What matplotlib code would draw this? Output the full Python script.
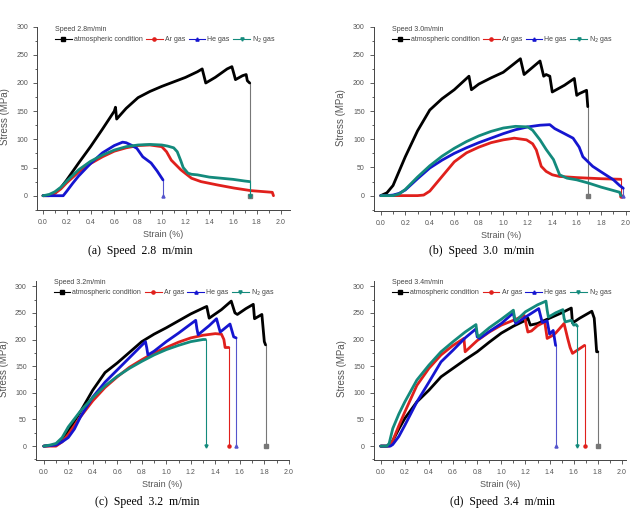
" stress-strain curves at four cutting speeds, four atmospheres "
import matplotlib
matplotlib.use("Agg")
import matplotlib.pyplot as plt
from matplotlib.ticker import MultipleLocator

plt.rcParams.update({"font.family": ["Liberation Sans", "DejaVu Sans"]})

speeds = ["2.8", "3.0", "3.2", "3.4"]
captions = ["(a)  Speed  2.8  m/min", "(b)  Speed  3.0  m/min",
            "(c)  Speed  3.2  m/min", "(d)  Speed  3.4  m/min"]
series_names = ["atmospheric condition", "Ar gas", "He gas", "N$_2$ gas"]

# ---- (a) 2.8 m/min ----
a_atm_x = [0, 0.05, 0.1, 0.15, 0.2, 0.3, 0.4, 0.5, 0.6, 0.61, 0.62, 0.7, 0.8, 0.9, 1.0, 1.1,
           1.2, 1.3, 1.34, 1.37, 1.45, 1.55, 1.59, 1.61, 1.62, 1.68, 1.71, 1.72, 1.74, 1.74]
a_atm_y = [0, 1, 5, 14, 28, 58, 87, 118, 150, 157, 136, 155, 174, 185, 194, 202,
           210, 220, 225, 200, 210, 225, 229, 214, 206, 213, 215, 204, 200, 0]
a_ar_x = [0, 0.05, 0.1, 0.15, 0.2, 0.3, 0.4, 0.5, 0.6, 0.7, 0.8, 0.9, 1.0, 1.04, 1.08, 1.16,
          1.25, 1.33, 1.47, 1.61, 1.75, 1.93, 1.94]
a_ar_y = [0, 0, 4, 12, 23, 42, 57, 69, 79, 85, 89, 90, 87, 78, 63, 46,
          31, 25, 19, 13.5, 9, 6, 0]
a_he_x = [0, 0.05, 0.1, 0.17, 0.2, 0.25, 0.3, 0.4, 0.5, 0.6, 0.67, 0.7, 0.75, 0.79, 0.84,
          0.91, 0.96, 1.01, 1.01]
a_he_y = [0, 0, 0, 0, 8, 22, 35, 57, 76, 89, 95, 94, 89, 84, 69,
          58, 44, 28, 0]
a_n2_x = [0, 0.05, 0.1, 0.15, 0.2, 0.3, 0.4, 0.5, 0.6, 0.7, 0.8, 0.9, 1.0, 1.05, 1.1, 1.13,
          1.16, 1.18, 1.22, 1.25, 1.3, 1.4, 1.5, 1.6, 1.7, 1.74, 1.74]
a_n2_y = [0, 2, 7, 15, 26, 46, 61, 72, 81, 87, 90, 91, 90, 88, 85, 78,
          62, 50, 40, 38, 37, 33, 31, 29, 26, 25, 0]

# ---- (b) 3.0 m/min ----
b_atm_x = [0, 0.05, 0.1, 0.2, 0.3, 0.4, 0.5, 0.6, 0.72, 0.74, 0.8, 0.9, 1.0, 1.14, 1.17,
           1.3, 1.33, 1.35, 1.38, 1.4, 1.5, 1.58, 1.6, 1.62, 1.68, 1.69, 1.69]
b_atm_y = [0, 5, 18, 69, 115, 152, 172, 188, 212, 188, 198, 209, 219, 243, 215,
           239, 212, 215, 212, 184, 196, 208, 178, 181, 187, 158, 0]
b_ar_x = [0, 0.1, 0.2, 0.3, 0.35, 0.4, 0.5, 0.6, 0.7, 0.8, 0.9, 1.0, 1.09, 1.19, 1.24,
          1.27, 1.31, 1.35, 1.4, 1.46, 1.6, 1.8, 1.96, 1.96]
b_ar_y = [0, 0, 0, 0, 1, 8, 34, 60, 76, 86, 94, 99, 102, 99, 92,
          81, 52, 43, 37, 34, 32, 30, 29, 0]
b_he_x = [0, 0.05, 0.1, 0.15, 0.2, 0.3, 0.4, 0.5, 0.6, 0.7, 0.8, 0.9, 1.0, 1.1, 1.2, 1.3,
          1.38, 1.42, 1.5, 1.57, 1.62, 1.65, 1.73, 1.8, 1.9, 1.95, 1.98, 1.98]
b_he_y = [0, 0, 1, 4, 10, 30, 49, 63, 75, 85, 94, 102, 110, 117, 122, 125,
          126, 119, 110, 102, 86, 69, 52, 42, 28, 18, 13, 0]
b_n2_x = [0, 0.1, 0.15, 0.2, 0.3, 0.4, 0.5, 0.6, 0.7, 0.8, 0.9, 1.0, 1.1, 1.2, 1.24,
          1.3, 1.35, 1.41, 1.46, 1.52, 1.6, 1.7, 1.8, 1.9, 1.95, 1.96]
b_n2_y = [0, 0, 3, 11, 33, 53, 70, 84, 96, 106, 114, 120, 123, 122, 116,
          99, 82, 64, 37, 31, 28, 22, 15, 9, 6, 0]

# ---- (c) 3.2 m/min ----
c_atm_x = [0, 0.1, 0.15, 0.2, 0.3, 0.4, 0.5, 0.6, 0.7, 0.8, 0.9, 1.0, 1.1, 1.2, 1.31,
           1.33, 1.35, 1.45, 1.53, 1.56, 1.58, 1.65, 1.71, 1.72, 1.78, 1.8, 1.81, 1.81]
c_atm_y = [0, 2, 10, 28, 65, 105, 138, 156, 176, 196, 210, 222, 235, 248, 260,
           262, 240, 256, 272, 250, 247, 258, 266, 239, 247, 196, 190, 0]
c_ar_x = [0, 0.1, 0.15, 0.2, 0.3, 0.4, 0.5, 0.6, 0.7, 0.8, 0.9, 1.0, 1.1, 1.2, 1.3,
          1.4, 1.45, 1.47, 1.48, 1.51, 1.51]
c_ar_y = [0, 0, 8, 22, 55, 85, 110, 130, 148, 162, 175, 185, 195, 203, 208,
          211, 210, 200, 185, 185, 0]
c_he_x = [0, 0.1, 0.15, 0.2, 0.25, 0.3, 0.4, 0.5, 0.6, 0.7, 0.83, 0.84, 0.85, 0.9, 1.0,
          1.1, 1.24, 1.25, 1.26, 1.35, 1.41, 1.43, 1.44, 1.52, 1.55, 1.57, 1.57]
c_he_y = [0, 2, 8, 16, 32, 55, 92, 120, 143, 166, 196, 185, 171, 178, 196,
          212, 236, 220, 209, 226, 239, 222, 214, 229, 205, 203, 0]
c_n2_x = [0, 0.05, 0.1, 0.15, 0.2, 0.3, 0.4, 0.5, 0.6, 0.7, 0.8, 0.9, 1.0, 1.1, 1.2,
          1.3, 1.32, 1.32]
c_n2_y = [0, 2, 5, 16, 36, 66, 91, 113, 131, 146, 159, 171, 181, 189, 196,
          200, 200, 0]

# ---- (d) 3.4 m/min ----
d_atm_x = [0, 0.05, 0.08, 0.1, 0.15, 0.2, 0.3, 0.4, 0.5, 0.6, 0.7, 0.8, 0.9, 1.0, 1.1,
           1.2, 1.22, 1.24, 1.3, 1.4, 1.5, 1.58, 1.59, 1.65, 1.75, 1.77, 1.78, 1.79, 1.8, 1.8]
d_atm_y = [0, 0, 2, 10, 32, 52, 83, 105, 130, 146, 162, 177, 195, 212, 225,
           236, 240, 227, 230, 240, 250, 259, 231, 240, 253, 240, 210, 177, 177, 0]
d_ar_x = [0, 0.07, 0.1, 0.15, 0.2, 0.3, 0.4, 0.5, 0.6, 0.69, 0.7, 0.8, 0.9, 1.0, 1.1,
          1.19, 1.22, 1.25, 1.3, 1.36, 1.38, 1.42, 1.45, 1.52, 1.55, 1.57, 1.59, 1.65,
          1.69, 1.69]
d_ar_y = [0, 0, 10, 38, 64, 114, 146, 171, 189, 202, 177, 198, 214, 227, 236,
          245, 214, 216, 226, 233, 202, 207, 212, 230, 202, 185, 174, 183,
          189, 0]
d_he_x = [0, 0.08, 0.1, 0.15, 0.2, 0.3, 0.4, 0.5, 0.6, 0.7, 0.79, 0.8, 0.82, 0.9, 1.0,
          1.1, 1.11, 1.12, 1.2, 1.31, 1.33, 1.34, 1.38, 1.4, 1.43, 1.45, 1.45]
d_he_y = [0, 0, 3, 18, 39, 83, 120, 158, 180, 203, 220, 205, 202, 215, 230,
          250, 236, 230, 242, 258, 240, 232, 235, 210, 217, 189, 0]
d_n2_x = [0, 0.05, 0.07, 0.1, 0.15, 0.2, 0.3, 0.4, 0.5, 0.6, 0.7, 0.79, 0.8, 0.81, 0.9,
          1.0, 1.1, 1.11, 1.12, 1.2, 1.3, 1.37, 1.38, 1.39, 1.45, 1.51, 1.52, 1.53,
          1.58, 1.6, 1.62, 1.63, 1.63]
d_n2_y = [0, 0, 5, 33, 60, 83, 124, 152, 177, 196, 214, 228, 210, 205, 222,
          238, 255, 240, 235, 252, 265, 272, 255, 242, 250, 256, 240, 233,
          236, 227, 228, 225, 0]

panels = [
    [(a_atm_x, a_atm_y), (a_ar_x, a_ar_y), (a_he_x, a_he_y), (a_n2_x, a_n2_y)],
    [(b_atm_x, b_atm_y), (b_ar_x, b_ar_y), (b_he_x, b_he_y), (b_n2_x, b_n2_y)],
    [(c_atm_x, c_atm_y), (c_ar_x, c_ar_y), (c_he_x, c_he_y), (c_n2_x, c_n2_y)],
    [(d_atm_x, d_atm_y), (d_ar_x, d_ar_y), (d_he_x, d_he_y), (d_n2_x, d_n2_y)],
]

colors = ["black", "#e0201c", "#1515d0", "#138a7c"]
drop_colors = ["#777777", "#e0201c", "#5555cc", "#138a7c"]
markers = ["s", "o", "^", "v"]

# axes rectangles in figure fraction and limits
rects = [[0.058, 0.595, 0.396, 0.359], [0.585, 0.593, 0.400, 0.361],
         [0.056, 0.112, 0.396, 0.353], [0.585, 0.112, 0.394, 0.353]]
xlims = [(-0.05, 2.08), (-0.057, 2.03), (-0.065, 2.0), (-0.057, 2.03)]
ylims = [(-25, 305), (-27, 305), (-26, 317), (-26, 317)]
cap_pos = [(0.22, 0.515), (0.753, 0.515), (0.23, 0.031), (0.787, 0.031)]

fig = plt.figure(figsize=(6.39, 5.18), dpi=100)

for k in range(4):
    ax = fig.add_axes(rects[k])
    handles = []
    for (xs, ys), c, dc, m, name in zip(panels[k], colors, drop_colors, markers, series_names):
        if ys[-1] == 0 and xs[-1] == xs[-2]:
            ax.plot(xs[-2:], ys[-2:], color=dc, lw=0.8)
            ax.plot(xs[-1:], ys[-1:], color=dc, marker=m, ms=2.2, ls="none")
            main_x, main_y = xs[:-1], ys[:-1]
        else:
            main_x, main_y = xs, ys
        ax.plot(main_x, main_y, color=c, lw=2.0, solid_capstyle="round")
        h, = ax.plot([], [], color=c, lw=0.8, marker=m, ms=2.3, label=name)
        handles.append(h)

    ax.set_xlim(*xlims[k])
    ax.set_ylim(*ylims[k])
    ax.xaxis.set_minor_locator(MultipleLocator(0.1))
    ax.yaxis.set_minor_locator(MultipleLocator(25))
    ax.set_xticks([i * 0.2 for i in range(11)])
    ax.set_xticklabels(["%.1f" % (i * 0.2) for i in range(11)])
    ax.set_yticks(range(0, 301, 50))
    for s in ["top", "right"]:
        ax.spines[s].set_visible(False)
    for s in ["left", "bottom"]:
        ax.spines[s].set_color("#444444")
        ax.spines[s].set_linewidth(0.7)
    ax.spines["left"].set_bounds(ylims[k][0], 300 if k < 2 else 310)
    ax.tick_params(which="both", direction="out", colors="#444444", labelsize=5,
                   labelcolor="#555555", width=0.6)
    ax.tick_params(which="major", length=3)
    ax.tick_params(which="minor", length=1.8)
    ax.set_ylabel("Stress (MPa)", fontsize=7, color="#555555")
    ax.set_xlabel("Strain (%)", fontsize=6.5, color="#555555", labelpad=3)
    ax.yaxis.set_label_coords(-0.107, 0.5)

    leg = ax.legend(handles=handles, loc="upper left", bbox_to_anchor=(0.06, 1.005),
                    ncol=4, frameon=False, fontsize=5, title="Speed %sm/min" % speeds[k],
                    title_fontsize=5, alignment="left", handlelength=2.4,
                    handletextpad=0.3, columnspacing=0.5, borderaxespad=0.0,
                    labelspacing=0.2)
    for t in leg.get_texts():
        t.set_color("#444444")
    leg.get_title().set_color("#444444")

    fig.text(cap_pos[k][0], cap_pos[k][1], captions[k], ha="center", va="center",
             fontsize=8.5, family=["Liberation Serif", "DejaVu Serif"])

fig.savefig("out.png", dpi=100)
